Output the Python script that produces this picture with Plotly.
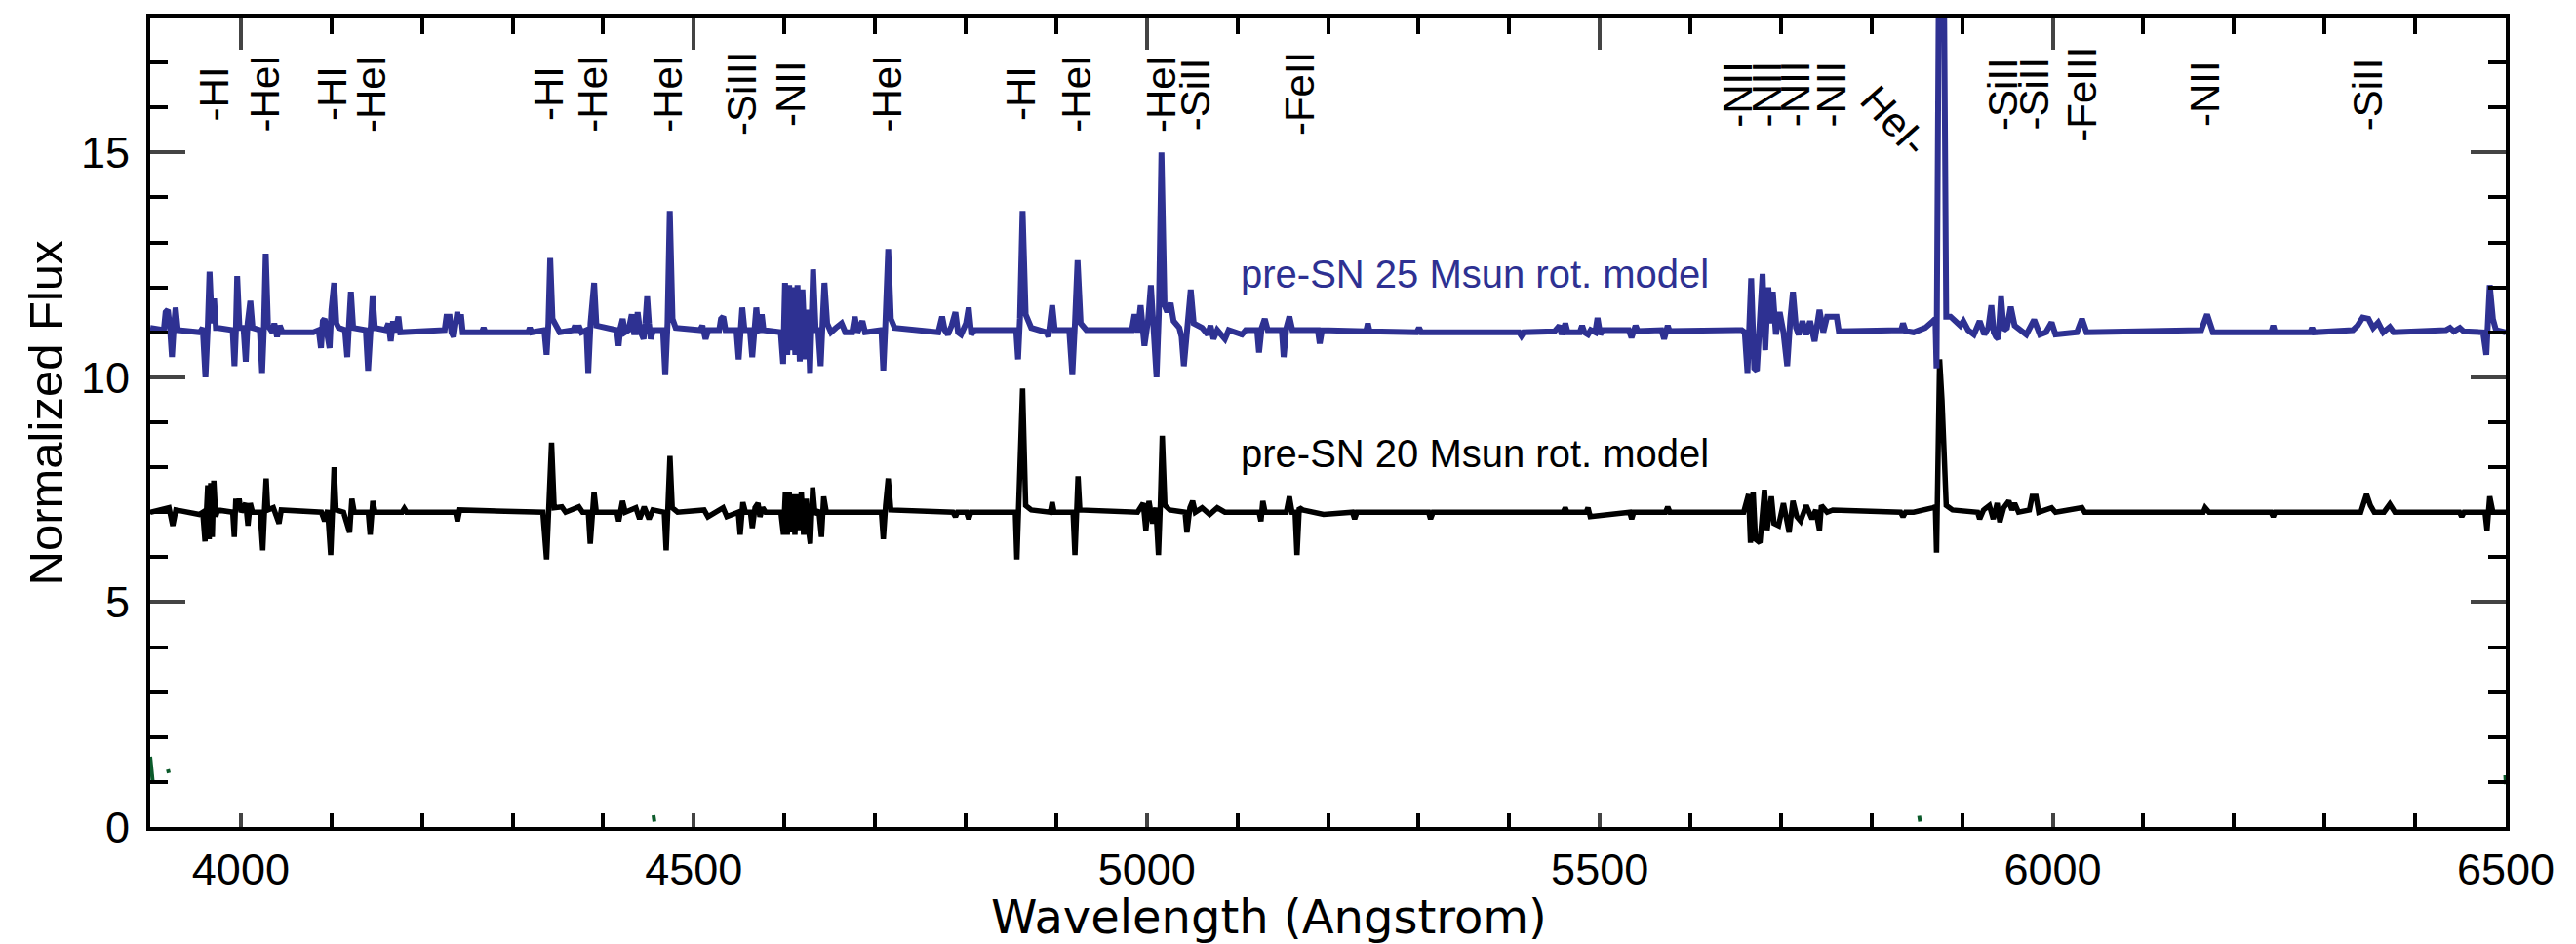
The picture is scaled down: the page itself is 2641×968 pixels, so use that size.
import plotly.graph_objects as go

# blue model spectrum (pre-SN 25 Msun rot.), wavelength in Angstrom / normalized flux (+ offset)
blue_wave = [3900, 3915, 3917, 3919.5, 3922, 3924, 3926, 3928, 3930.5, 3955, 3958, 3961, 3963.5, 3965.5, 3968,
             3970.5, 3972.5, 3975, 3991, 3993, 3994.5, 3996, 3998.5, 4003, 4005.5, 4007.5, 4010.5, 4013, 4021,
             4023.5, 4025.5, 4027.5, 4030, 4035, 4037, 4040, 4043, 4046, 4080, 4086, 4088.5, 4090.5, 4092.5,
             4095, 4098, 4100, 4103, 4105.5, 4108, 4115, 4117.5, 4119.5, 4121.5, 4124, 4138, 4140.5, 4143,
             4145.5, 4148, 4160, 4163, 4165.5, 4168, 4170.5, 4174, 4176, 4225, 4227, 4230.5, 4232.5, 4235,
             4237, 4239, 4241, 4243, 4245, 4266, 4268, 4270, 4317, 4319, 4321, 4335, 4337.5, 4339.5, 4341.5,
             4344, 4348, 4352, 4367, 4369, 4371, 4373, 4376, 4381.5, 4383.5, 4386, 4390, 4392.5, 4415, 4417,
             4419, 4421.5, 4424, 4428, 4431.5, 4434, 4436, 4438, 4440.5, 4444.5, 4446.5, 4448.5, 4450.5,
             4452.5, 4455, 4466, 4468.5, 4471, 4473.5, 4476.5, 4480, 4507, 4509.5, 4513, 4516, 4528, 4530,
             4532.5, 4535, 4547, 4549.5, 4551.5, 4553.5, 4556, 4562, 4564.5, 4566.5, 4569, 4571.5, 4573, 4575,
             4577, 4596, 4598.6, 4600.7, 4603.2, 4605.3, 4607.8, 4609.9, 4612, 4614.5, 4617, 4619.9, 4623.3,
             4625.8, 4628.3, 4631.7, 4634.6, 4637.1, 4640, 4642.1, 4644.2, 4647.2, 4651.4, 4656.8, 4663.1,
             4667.3, 4674.8, 4677.7, 4680.7, 4686.1, 4689.1, 4707.1, 4709.2, 4711.3, 4714.6, 4717.5, 4721.7,
             4769.9, 4774.1, 4777, 4780.4, 4784.6, 4788.8, 4791.7, 4795, 4800.5, 4803.4, 4806.4, 4809.7,
             4855.8, 4857.9, 4860, 4862.9, 4866.3, 4872.5, 4889.3, 4891.4, 4895.6, 4898.5, 4914.4, 4917.8,
             4920.7, 4923.6, 4927, 4933.3, 4983.5, 4986.5, 4989.8, 4993.2, 4997.4, 5001.6, 5004.5, 5007.8,
             5010.8, 5013.3, 5016.2, 5019.6, 5022.5, 5026.3, 5029.6, 5035.9, 5038.4, 5040.9, 5044.3, 5048.5,
             5051.8, 5061, 5067.3, 5070.3, 5073.6, 5077.8, 5086.2, 5090.4, 5105, 5109.2, 5121.8, 5123.9,
             5126.8, 5130.2, 5133.5, 5149, 5151.1, 5154, 5157.4, 5160.7, 5188.8, 5190.9, 5193.4, 5242, 5244,
             5246, 5298, 5300.5, 5303, 5411, 5413.5, 5416, 5450, 5455.5, 5458, 5462, 5464.5, 5478, 5480.5,
             5483, 5487, 5490, 5495, 5497.5, 5500.5, 5503, 5532, 5535, 5537, 5539.5, 5542, 5568, 5571, 5573,
             5575, 5577, 5656.7, 5660, 5663, 5667.1, 5670.5, 5673.4, 5676.4, 5679.7, 5682.6, 5686, 5688.9,
             5691, 5694.4, 5698.6, 5702.7, 5706.9, 5710.3, 5713.2, 5716.6, 5719.5, 5723.7, 5727.9, 5732.1,
             5737.1, 5742.5, 5746.7, 5750.9, 5761.4, 5763.9, 5832.6, 5834.7, 5837.6, 5846.4, 5859.2, 5867.8,
             5870.4, 5871.7, 5874.3, 5879.8, 5882.4, 5887.1, 5893.6, 5897.9, 5901.3, 5906.5, 5912.9, 5919.3,
             5924.5, 5928.8, 5932.2, 5934.8, 5937.3, 5939.9, 5942.9, 5945.9, 5949.4, 5953.6, 5957.9, 5964.4,
             5970.8, 5979.4, 5985.8, 5992.3, 5998.7, 6003, 6026.6, 6032.2, 6037.3, 6163.9, 6170.3, 6176.8,
             6241.1, 6243.3, 6245.4, 6284.1, 6286.2, 6288.4, 6331.3, 6336.4, 6342, 6348.4, 6353.6, 6359.1,
             6364.7, 6372, 6376.3, 6434.2, 6438.5, 6442.8, 6449.3, 6453.6, 6475, 6478.5, 6480.6, 6482.3,
             6485.8, 6489.2, 6500]
blue_flux = [11.1, 11.05, 11.45, 11.5, 11.05, 10.45, 11.1, 11.55, 11.05, 11.0, 11.1, 10.0, 11.1, 12.35, 11.2,
             11.75, 11.1, 11.1, 11.05, 10.25, 11.0, 12.25, 11.1, 11.1, 10.35, 11.2, 11.7, 11.1, 11.05,
             10.1, 11.1, 12.75, 11.15, 11.0, 11.2, 10.9, 11.15, 11.0, 11.0, 11.05, 10.65, 11.25, 11.3,
             11.0, 10.65, 11.5, 12.1, 11.2, 11.1, 11.05, 10.45, 11.2, 11.9, 11.1, 11.05, 10.15, 11.1,
             11.8, 11.1, 11.05, 11.2, 10.8, 11.25, 11.0, 11.35, 11.0, 11.05, 11.35, 11.35, 11.0, 10.9,
             11.3, 11.45, 11.2, 11.4, 11.0, 11.0, 11.1, 11.0, 11.0, 11.1, 11.0, 11.05, 10.5, 11.2, 12.65,
             11.3, 11.15, 11.0, 11.05, 11.15, 11.0, 11.15, 11.0, 11.05, 10.1, 11.2, 12.1, 11.15, 11.05, 10.7,
             11.1, 11.3, 11.0, 11.05, 11.4, 11.0, 11.0, 11.45, 11.05, 10.85, 11.2, 11.8, 11.2,
             10.85, 11.05, 11.05, 10.05, 11.2, 13.7, 11.3, 11.1, 11.05, 11.15, 10.85, 11.05, 11.05, 11.3,
             11.35, 11.05, 11.05, 10.4, 11.1, 11.55, 11.05, 11.05, 10.45, 11.1, 11.55, 11.05, 11.0, 11.4,
             11.05, 11.0, 10.3, 12.1, 10.5, 12.05, 10.6, 12.0, 10.5, 12.05, 10.35, 11.95, 10.4,
             11.5, 10.1, 12.4, 11.0, 11.1, 10.25, 11.2, 12.1, 11.2, 11.0, 11.1, 11.2,
             11.0, 11.0, 11.35, 11.0, 11.25, 11.0, 11.05, 10.15, 11.1, 12.85, 11.3, 11.1,
             11.0, 11.35, 11.05, 10.95, 11.15, 11.45, 11.0, 10.95, 11.2, 11.55, 10.95, 11.05,
             11.05, 10.4, 11.3, 13.7, 11.4, 11.1, 11.0, 10.9, 11.6, 11.05, 11.05, 10.05,
             11.2, 12.6, 11.2, 11.05, 11.05, 11.4, 11.0, 11.6, 10.7, 11.3, 12.05, 10.9,
             10.0, 11.4, 15.0, 11.6, 11.45, 11.65, 11.25, 11.1, 10.9, 10.25, 11.2, 11.95,
             11.2, 11.1, 10.95, 11.15, 10.85, 11.05, 10.85, 11.05, 10.95, 11.05, 11.05, 10.55,
             11.1, 11.3, 11.05, 11.05, 10.45, 11.1, 11.35, 11.05, 11.05, 10.75, 11.05, 11.02, 11.2,
             11.02, 11.0, 11.1, 11.0, 11.0, 10.92, 11.0, 11.02, 11.15, 10.95, 11.2, 11.0, 11.0, 11.15,
             11.0, 10.95, 11.05, 11.0, 11.32, 10.95, 11.05, 11.05, 10.88, 11.0, 11.15, 11.03, 11.05, 10.85, 11.0,
             11.15, 11.03, 11.05, 11.0, 10.1, 12.2, 10.2, 10.15, 11.5, 12.3, 10.6, 12.0, 11.2,
             11.9, 10.95, 11.45, 11.0, 10.25, 11.3, 11.9, 11.1, 10.95, 11.25, 10.95, 11.25,
             10.8, 11.5, 11.0, 11.35, 11.35, 11.02, 11.05, 11.2, 11.03, 11.0, 11.1, 11.25,
             11.3, 10.2, 19.0, 19.0, 11.35, 11.35, 11.25, 11.15, 11.25, 11.05, 10.95, 11.25,
             10.95, 11.1, 11.6, 11.0, 10.9, 10.85, 11.8, 11.05, 11.1, 11.57, 11.15, 11.05,
             10.95, 11.28, 10.95, 11.0, 11.22, 10.95, 11.0, 11.3, 11.0, 11.05, 11.4, 11.0,
             11.0, 11.15, 11.0, 11.0, 11.1, 11.0, 11.05, 11.15, 11.33, 11.3, 11.1, 11.22,
             11.0, 11.12, 11.0, 11.05, 11.1, 11.02, 11.1, 11.02, 11.0, 10.5, 11.3, 12.05,
             11.3, 11.05, 11.0]

# black model spectrum (pre-SN 20 Msun rot.)
black_wave = [3900, 3914.5, 3920.7, 3924.9, 3928.3, 3954.2, 3958, 3960.5, 3963.5, 3965.1, 3966.8, 3968.5,
              3970.2, 3972.3, 3974.4, 3991.1, 3992.8, 3994.5, 3996.6, 3998.2, 4000.3, 4005.4, 4007.9,
              4010.4, 4012.9, 4021.3, 4024.2, 4026.3, 4028, 4029.7, 4035.9, 4042.2, 4044.7, 4089,
              4092.5, 4095.8, 4099.2, 4101.3, 4103, 4105.1, 4113.4, 4120.1, 4122.6, 4125.2, 4140.7,
              4142.8, 4145.7, 4148.2, 4178, 4180.5, 4183, 4237, 4239.1, 4241.6, 4333.4, 4337.5, 4340.5,
              4343, 4345.9, 4354.3, 4358.5, 4373.2, 4377.3, 4383.6, 4385.7, 4387.8, 4389.9, 4392.4,
              4415, 4417.1, 4421.3, 4424.3, 4436, 4440.2, 4445.2, 4450.6, 4454.8, 4467.4, 4469.5,
              4471.6, 4473.7, 4476.2, 4482.1, 4511.4, 4515.6, 4532.3, 4536.5, 4549.1, 4551.2, 4554.2,
              4557, 4562.5, 4564.6, 4567.6, 4570.9, 4573, 4576, 4579.3, 4596.1, 4599, 4601.1, 4603.2,
              4605.3, 4607.4, 4609.5, 4611.6, 4613.7, 4616.2, 4618.7, 4621.2, 4624.1, 4626.6, 4628.7,
              4631.2, 4633.8, 4638, 4640.9, 4643.4, 4646.3, 4707.1, 4709.2, 4711.7, 4714.6, 4717.5,
              4786, 4788.8, 4791, 4801, 4803.4, 4806, 4854.9, 4856.6, 4859.1, 4862.9, 4866.3, 4872.5,
              4893.5, 4895.6, 4897.7, 4918.6, 4920.7, 4922.4, 4924.1, 4926.1, 4989.8, 4996.1, 4999,
              5002.4, 5006.6, 5010, 5012.9, 5015, 5017.1, 5020, 5025.4, 5042.2, 5044.3, 5047.6, 5050.6,
              5053.5, 5061, 5069.4, 5077.8, 5086.2, 5123.9, 5126, 5128.1, 5130.6, 5154, 5157.4, 5160.3,
              5163.7, 5165.8, 5168.3, 5172.1, 5195.1, 5227, 5229.4, 5232, 5311, 5313.2, 5316, 5459.5,
              5461.9, 5464, 5485, 5487, 5489.5, 5533, 5535.2, 5537.5, 5572.5, 5575, 5577.5, 5658.8,
              5664.2, 5666.3, 5669.3, 5671.8, 5676.8, 5681.8, 5684.7, 5689.4, 5692.3, 5697.3, 5702.7,
              5706.1, 5709, 5713.2, 5717.4, 5721.6, 5727.9, 5734.2, 5738.4, 5742.5, 5744.6, 5750.9,
              5757.2, 5832, 5834.7, 5837.5, 5846.4, 5867.8, 5870.4, 5871.7, 5873.4, 5875.1, 5877.7,
              5879.8, 5882.4, 5889.3, 5917, 5919.3, 5923.6, 5930, 5934.3, 5938.6, 5941.6, 5945.9,
              5951.5, 5954.9, 5957.9, 5962.2, 5974.2, 5977.2, 5981.5, 5984.5, 5998.7, 6003, 6032.2,
              6035.2, 6166.1, 6168.2, 6172.5, 6241, 6243.3, 6245.5, 6339.9, 6346.3, 6350.6, 6354.9,
              6365.6, 6372, 6377.6, 6449, 6451.4, 6454, 6477.1, 6479.3, 6482.3, 6485.8, 6500]
black_flux = [7.0, 7.05, 7.1, 6.7, 7.05, 6.95, 7.0, 6.35, 7.6, 6.4, 7.65, 6.45,
              7.7, 6.9, 7.05, 7.0, 6.45, 7.3, 7.05, 7.3, 7.0, 7.2, 6.7,
              7.2, 7.0, 7.0, 6.15, 7.1, 7.75, 7.05, 7.1, 6.75, 7.05, 7.0,
              6.8, 7.05, 6.05, 7.1, 8.0, 7.05, 7.0, 6.55, 7.3, 7.0, 7.0,
              6.5, 7.25, 7.0, 7.0, 7.08, 7.0, 7.0, 6.8, 7.05, 7.0, 5.95, 7.2,
              8.55, 7.1, 7.12, 7.0, 7.12, 7.0, 7.0, 6.3, 7.1, 7.45, 7.0,
              7.0, 6.8, 7.25, 7.0, 7.1, 6.85, 7.12, 6.85, 7.05, 7.0, 6.15,
              7.2, 8.25, 7.1, 7.0, 7.05, 6.9, 7.1, 6.9, 7.0, 6.5, 7.22,
              7.0, 7.0, 6.65, 7.1, 7.2, 6.9, 7.1, 7.0, 7.0, 6.5, 7.45, 6.5,
              7.45, 6.55, 7.4, 6.5, 7.4, 6.6, 7.45, 6.5, 7.3, 6.6, 6.3,
              7.55, 6.95, 7.05, 6.45, 7.35, 7.0, 7.0, 6.4, 7.15, 7.75, 7.05,
              7.0, 6.9, 7.0, 7.0, 6.85, 7.0, 7.0, 5.95, 7.3, 9.75, 7.15, 7.05,
              7.0, 7.22, 7.0, 7.0, 6.05, 7.1, 7.8, 7.05, 7.0, 7.2, 6.6,
              7.25, 6.75, 7.1, 6.05, 7.2, 8.7, 7.15, 7.05, 7.0, 6.55, 7.1, 7.25,
              7.0, 7.1, 6.95, 7.1, 7.0, 7.0, 6.8, 7.25, 7.0, 7.0, 7.35, 7.0,
              7.0, 6.05, 7.1, 7.05, 6.95, 7.0, 6.85, 7.0, 7.0, 6.85, 7.0, 7.0,
              7.1, 7.0, 7.0, 7.1, 6.9, 7.0, 6.85, 7.0, 7.0, 7.12, 7.0, 7.0,
              7.4, 6.32, 7.45, 6.4, 6.32, 7.5, 6.6, 7.35, 6.75, 6.7, 7.2,
              6.8, 6.55, 7.25, 6.9, 6.8, 7.15, 6.85, 7.05, 6.6, 7.15, 7.0,
              7.05, 7.0, 6.9, 7.0, 7.0, 7.1, 7.12, 6.1, 8.5, 10.4, 9.5,
              8.0, 7.15, 7.05, 7.0, 6.85, 7.05, 7.15, 6.85, 7.2, 6.78, 7.1,
              7.25, 7.05, 7.2, 7.0, 7.05, 7.35, 7.35, 7.0, 7.1, 7.0, 7.1,
              7.0, 7.0, 7.1, 7.0, 7.0, 6.9, 7.0, 7.0, 7.4, 7.15, 7.0,
              7.0, 7.18, 7.0, 7.0, 6.9, 7.0, 7.0, 6.6, 7.35, 7.0, 7.0]

# faint third spectrum: only a few fragments poke above zero
green_wave = [3900, 3903, None, 3919.5, 3920.5, None, 4455.5, 4456.5, None, 5852.5, 5853.5, None, 6499.5, 6500]
green_flux = [1.56, 0.96, None, 1.28, 1.2, None, 0.26, 0.12, None, 0.25, 0.12, None, 1.15, 0.95]

# line identifications
line_names = ["HI", "HeI", "HI", "HeI", "HI", "HeI", "HeI", "SiIII", "NII", "HeI", "HI", "HeI", "HeI",
              "SiII", "FeII", "NII", "NII", "NII", "NII", "SiII", "SiII", "FeIII", "NII", "SiII"]
line_waves = [3970, 4026, 4101, 4144, 4340, 4388, 4471, 4553, 4607, 4713, 4861, 4922, 5016,
              5053, 5169, 5652, 5684, 5716, 5755, 5945, 5979, 6032, 6168, 6347]

BLUE = "#2E3192"
FONT = "Liberation Sans, Arial, Helvetica, sans-serif"

fig = go.Figure()
fig.add_trace(go.Scatter(x=green_wave, y=green_flux, mode="lines", connectgaps=False,
                         line=dict(color="#0B5A2A", width=4), hoverinfo="skip"))
fig.add_trace(go.Scatter(x=black_wave, y=black_flux, mode="lines",
                         line=dict(color="black", width=5.5), hoverinfo="skip"))
fig.add_trace(go.Scatter(x=blue_wave, y=blue_flux, mode="lines",
                         line=dict(color=BLUE, width=6), hoverinfo="skip"))

for name, w in zip(line_names, line_waves):
    fig.add_annotation(x=w, y=16.3, text="-" + name, showarrow=False, textangle=-90,
                       xanchor="center", yanchor="middle", font=dict(size=42, color="black"))
fig.add_annotation(x=5826, y=15.7, text="HeI-", showarrow=False, textangle=48,
                   xanchor="center", yanchor="middle", font=dict(size=42, color="black"))

fig.add_annotation(x=5102, y=12.3, text="pre-SN 25 Msun rot. model", showarrow=False,
                   xanchor="left", yanchor="middle", font=dict(size=40, color=BLUE))
fig.add_annotation(x=5102, y=8.3, text="pre-SN 20 Msun rot. model", showarrow=False,
                   xanchor="left", yanchor="middle", font=dict(size=40, color="black"))

# axis titles
fig.add_annotation(x=0.475, y=-0.1107, xref="paper", yref="paper", text="Wavelength (Angstrom)",
                   showarrow=False, xanchor="center", yanchor="middle",
                   font=dict(size=48, family="DejaVu Sans, Liberation Sans, sans-serif"))
fig.add_annotation(x=-0.0445, y=0.511, xref="paper", yref="paper", text="Normalized Flux",
                   showarrow=False, textangle=-90, xanchor="center", yanchor="middle", font=dict(size=49))

# the page body adds an 8 px margin, so the plot box is set 8 px up and left of the target
fig.update_layout(
    width=2641, height=968,
    margin=dict(l=146, r=80, t=6, b=128),
    paper_bgcolor="white", plot_bgcolor="white",
    showlegend=False,
    font=dict(family=FONT, color="black", size=44),
    xaxis=dict(range=[3900, 6500], tick0=4000, dtick=500, ticks="inside", ticklen=14, tickwidth=4,
               showline=True, linewidth=4, linecolor="black", mirror=True, showgrid=False, zeroline=False,
               minor=dict(dtick=100, ticks="inside", ticklen=14, tickwidth=4, tickcolor="black"),
               tickfont=dict(size=45), ticklabelstandoff=1),
    xaxis2=dict(range=[3900, 6500], overlaying="x", side="top", tick0=4000, dtick=500, ticks="inside",
                ticklen=33, tickwidth=4, showticklabels=False, showline=False, showgrid=False, zeroline=False,
                minor=dict(dtick=100, ticks="inside", ticklen=17, tickwidth=4, tickcolor="black")),
    yaxis=dict(range=[0, 18], tick0=0, dtick=5, ticks="inside", ticklen=36, tickwidth=4,
               showline=True, linewidth=4, linecolor="black", mirror="ticks", showgrid=False, zeroline=False,
               minor=dict(dtick=1, ticks="inside", ticklen=18, tickwidth=4, tickcolor="black"),
               tickfont=dict(size=45), ticklabelstandoff=8),
)
# dummy trace so the top axis is drawn
fig.add_trace(go.Scatter(x=[3900], y=[-5], xaxis="x2", mode="lines", hoverinfo="skip", showlegend=False))

fig.write_html("out.html")
